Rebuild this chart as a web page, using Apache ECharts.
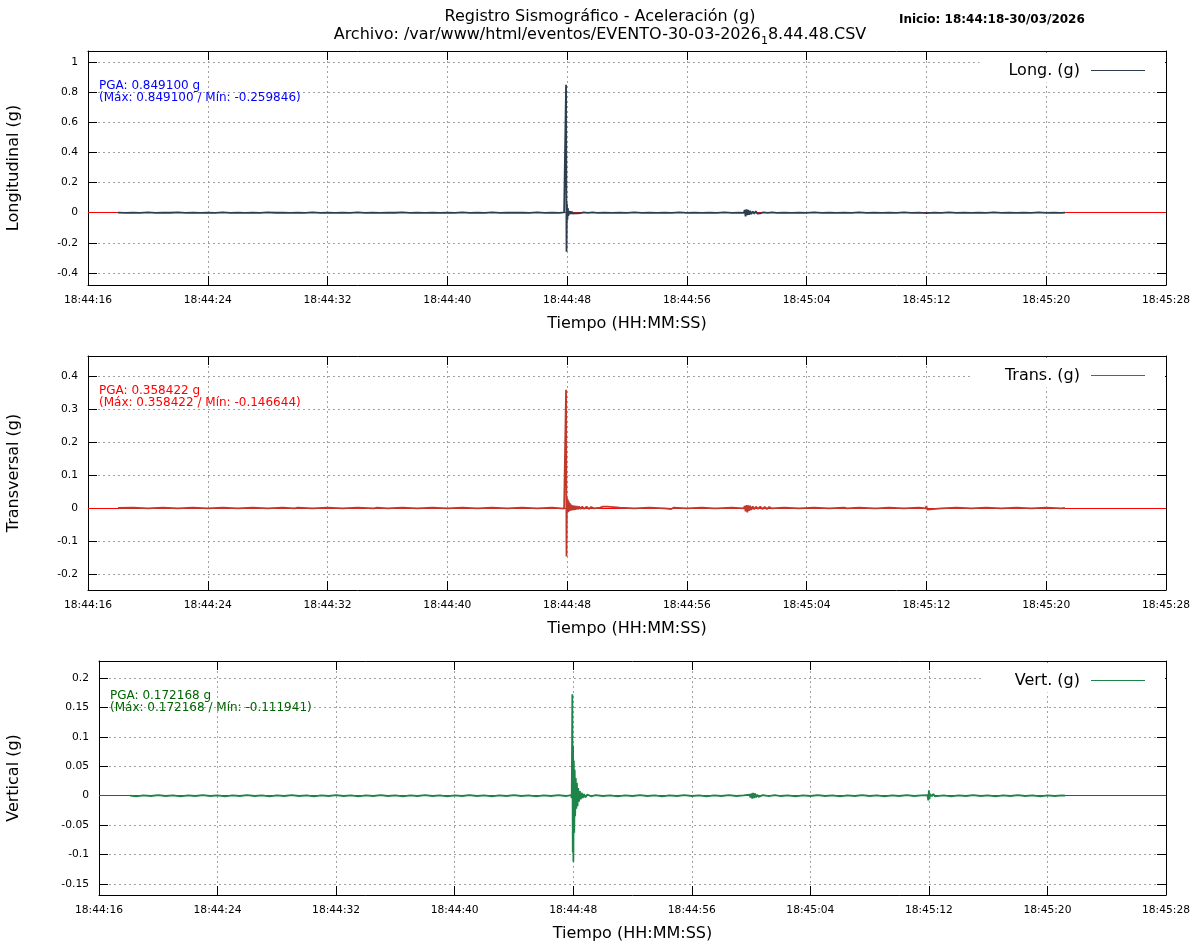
<!DOCTYPE html>
<html><head><meta charset="utf-8">
<script src="https://cdn.jsdelivr.net/npm/echarts@6/dist/echarts.min.js"></script>
<style>html,body{margin:0;padding:0;background:#fff}#c{width:1200px;height:950px}</style>
</head><body><div id="c"></div>
<script>
// ---------- DATA ----------
const tituloPrincipal = 'Registro Sismográfico - Aceleración (g)';
const archivoA = 'Archivo: /var/www/html/eventos/EVENTO-30-03-2026';
const archivoSub = '1';
const archivoB = '8.44.48.CSV';
const inicio = 'Inicio: 18:44:18-30/03/2026';
const tituloTiempo = 'Tiempo (HH:MM:SS)';
// x: seconds after 18:44:16
const etiquetasTiempo = ['18:44:16','18:44:24','18:44:32','18:44:40','18:44:48','18:44:56','18:45:04','18:45:12','18:45:20','18:45:28'];
const nombresSerie = ['Long. (g)', 'Trans. (g)', 'Vert. (g)'];
const titulosEjeY = ['Longitudinal (g)', 'Transversal (g)', 'Vertical (g)'];
const pga = [0.849100, 0.358422, 0.172168];
const maximos = [0.849100, 0.358422, 0.172168];
const minimos = [-0.259846, -0.146644, -0.111941];
const rangosY = [[-0.48, 1.073], [-0.2485, 0.4606], [-0.1686, 0.2288]];
const pasosY = [0.2, 0.1, 0.05];

const longitudinal = [
[2.0,0.000],[2.5,-0.0015],[3.0,0.001],[3.5,-0.001],[4.0,0.0015],[4.5,-0.0015],[5.0,0.001],[5.5,-0.0005],[6.0,0.0015],[6.5,-0.001],
[7.0,0.001],[7.5,-0.0015],[8.0,0.0005],[8.5,-0.001],[9.0,0.0015],[9.5,-0.001],[10.0,0.001],[10.5,-0.0015],[11.0,0.001],[11.5,-0.001],
[12.0,0.0015],[12.5,-0.0005],[13.0,0.001],[13.5,-0.0015],[14.0,0.001],[14.5,-0.001],[15.0,0.0015],[15.5,-0.001],[16.0,0.0005],[16.5,-0.0015],
[17.0,0.001],[17.5,-0.001],[18.0,0.0015],[18.5,-0.001],[19.0,0.001],[19.5,-0.0015],[20.0,0.001],[20.5,-0.0005],[21.0,0.0015],[21.5,-0.001],
[22.0,0.001],[22.5,-0.0015],[23.0,0.001],[23.5,-0.001],[24.0,0.0005],[24.5,-0.0015],[25.0,0.0015],[25.5,-0.001],[26.0,0.001],[26.5,-0.001],
[27.0,0.0015],[27.5,-0.0015],[28.0,0.001],[28.5,-0.0005],[29.0,0.001],[29.5,-0.0015],[30.0,0.0015],[30.5,-0.001],[31.0,0.001],[31.5,-0.001],
[31.80,0.002],[31.88,-0.004],[31.93,0.849100],[31.96,-0.259846],[31.99,0.061],[32.02,-0.047],[32.05,0.030],[32.08,-0.022],[32.12,0.012],[32.16,-0.010],
[32.21,0.009],[32.26,-0.008],[32.32,0.007],[32.38,-0.007],[32.45,0.006],[32.52,-0.005],[32.60,0.005],[32.68,-0.004],[32.78,0.004],[32.90,-0.003],
[33.1,0.002],[33.4,-0.0015],[33.7,0.0015],[34.0,-0.001],[34.5,0.001],[35.0,-0.0015],[35.5,0.001],[36.0,-0.001],[36.5,0.0015],[37.0,-0.001],
[37.5,0.001],[38.0,-0.0015],[38.5,0.001],[39.0,-0.001],[39.5,0.0015],[40.0,-0.001],[40.5,0.001],[41.0,-0.0015],[41.5,0.001],[42.0,-0.001],
[42.5,0.0015],[43.0,-0.001],[43.5,0.001],[43.80,-0.002],[43.86,0.018],[43.92,-0.024],[43.98,0.022],[44.04,-0.016],[44.10,0.019],[44.16,-0.014],
[44.22,0.012],[44.30,-0.010],[44.40,0.008],[44.50,-0.007],[44.60,0.009],[44.70,-0.006],[44.80,0.005],[44.90,-0.004],[45.1,0.002],[45.4,-0.001],
[45.7,0.0015],[46.0,-0.001],[46.5,0.001],[47.0,-0.0015],[47.5,0.001],[48.0,-0.001],[48.5,0.0015],[49.0,-0.001],[49.5,0.001],[50.0,-0.0015],
[50.5,0.001],[51.0,-0.001],[51.5,0.0015],[52.0,-0.001],[52.5,0.001],[53.0,-0.0015],[53.5,0.001],[54.0,-0.001],[54.5,0.0015],[55.0,-0.001],
[55.5,0.001],[56.0,-0.003],[56.5,0.001],[57.0,-0.001],[57.5,0.0015],[58.0,-0.001],[58.5,0.001],[59.0,-0.0015],[59.5,0.001],[60.0,-0.001],
[60.5,0.0015],[61.0,-0.001],[61.5,0.001],[62.0,-0.0015],[62.5,0.001],[63.0,-0.001],[63.5,0.0015],[64.0,-0.001],[64.5,0.001],[65.0,-0.0015],[65.25,0.0005]
];

const transversal = [
[2.0,0.000],[3.0,0.001],[4.0,-0.001],[5.0,0.001],[6.0,-0.001],[7.0,0.001],[8.0,-0.001],[9.0,0.001],[10.0,-0.001],[11.0,0.001],
[12.0,-0.001],[13.0,0.001],[13.8,-0.001],[13.9,-0.004],[14.0,0.001],[15.0,-0.001],[16.0,0.001],[17.0,-0.001],[18.0,0.001],[19.1,-0.001],
[19.2,-0.004],[19.3,0.001],[20.0,-0.001],[21.0,0.001],[22.0,-0.001],[23.0,0.001],[24.0,-0.001],[25.0,0.001],[26.0,-0.001],[27.0,0.001],
[28.0,-0.001],[29.0,0.001],[30.0,-0.001],[31.0,0.001],[31.8,-0.002],
[31.88,0.004],[31.93,0.358422],[31.96,-0.146644],[31.99,0.030],[32.02,-0.014],[32.05,0.026],[32.08,-0.012],[32.11,0.020],[32.14,-0.010],[32.18,0.015],
[32.22,-0.008],[32.27,0.010],[32.32,-0.007],[32.38,0.008],[32.44,-0.006],[32.50,0.007],[32.57,-0.005],[32.64,0.006],[32.72,-0.004],[32.80,0.005],
[32.90,-0.003],[33.0,0.004],[33.15,-0.003],[33.30,0.004],[33.45,-0.003],[33.60,0.003],[33.8,-0.001],[34.2,0.001],[34.40,0.004],[34.50,-0.001],
[34.70,0.004],[34.8,-0.001],[35.5,0.001],[36.5,-0.001],[37.5,0.001],[38.5,-0.001],[38.95,-0.003],[39.1,0.001],[40.0,-0.001],[41.0,0.001],
[41.8,-0.001],[41.9,0.004],[42.0,-0.001],[43.0,0.001],[43.8,-0.001],
[43.86,0.006],[43.92,-0.010],[43.98,0.009],[44.04,-0.013],[44.10,0.008],[44.16,-0.009],[44.22,0.007],[44.30,-0.006],[44.40,0.005],[44.50,-0.004],
[44.62,0.004],[44.75,-0.003],[44.90,0.004],[45.05,-0.003],[45.20,0.003],[45.35,-0.003],[45.50,0.003],[45.65,-0.001],
[46.5,0.001],[47.5,-0.001],[48.5,0.001],[49.5,-0.001],[50.5,0.001],[50.6,0.004],[50.7,-0.001],[51.5,0.001],[52.5,-0.001],[52.6,0.004],
[52.7,-0.001],[53.5,0.001],[54.5,-0.001],[55.5,0.001],[55.95,-0.001],[56.0,0.006],[56.05,-0.005],[56.1,0.001],[57.0,-0.001],[58.0,0.001],
[59.0,-0.001],[60.0,0.001],[61.0,-0.001],[62.0,0.001],[63.0,-0.001],[64.0,0.001],[65.0,-0.001],[65.25,0.000]
];

const vertical = [
[2.1,0.000],[2.5,-0.001],[3.0,0.0005],[3.5,-0.0005],[4.0,0.001],[4.5,-0.0005],[5.0,0.0005],[5.5,-0.001],[6.0,0.0005],[6.5,-0.0005],
[7.0,0.001],[7.5,-0.0005],[8.0,0.0005],[8.5,-0.001],[9.0,0.0005],[9.5,-0.0005],[10.0,0.001],[10.5,-0.0005],[11.0,0.0005],[11.5,-0.001],
[12.0,0.0005],[12.5,-0.0005],[13.0,0.001],[13.5,-0.0005],[14.0,0.0005],[14.5,-0.001],[15.0,0.0005],[15.5,-0.0005],[16.0,0.001],[16.5,-0.0005],
[17.0,0.0005],[17.5,-0.001],[18.0,0.0005],[18.5,-0.0005],[19.0,0.001],[19.5,-0.0005],[20.0,0.0005],[20.5,-0.001],[21.0,0.0005],[21.5,-0.0005],
[22.0,0.001],[22.5,-0.0005],[23.0,0.0005],[23.5,-0.001],[24.0,0.0005],[24.5,-0.0005],[25.0,0.001],[25.5,-0.0005],[26.0,0.0005],[26.5,-0.001],
[27.0,0.0005],[27.5,-0.0005],[28.0,0.001],[28.5,-0.0005],[29.0,0.0005],[29.5,-0.001],[30.0,0.0005],[30.5,-0.0005],[31.0,0.001],[31.5,-0.0005],
[31.85,0.001],[31.90,-0.004],[31.94,0.172168],[31.97,-0.096],[31.99,0.085],[32.01,-0.111941],[32.04,0.060],[32.07,-0.063],[32.10,0.044],[32.13,-0.035],
[32.17,0.030],[32.21,-0.022],[32.25,0.022],[32.29,-0.018],[32.34,0.013],[32.39,-0.010],[32.45,0.008],[32.51,-0.006],[32.58,0.005],[32.65,-0.004],
[32.73,0.003],[32.82,-0.003],[32.95,0.002],[33.2,-0.001],[33.5,0.001],[34.0,-0.0005],[34.5,0.0005],[35.0,-0.001],[35.5,0.0005],[36.0,-0.0005],
[36.5,0.001],[37.0,-0.0005],[37.5,0.0005],[38.0,-0.001],[38.5,0.0005],[39.0,-0.0005],[39.5,0.001],[40.0,-0.0005],[40.5,0.0005],[41.0,-0.001],
[41.5,0.0005],[42.0,-0.0005],[42.5,0.001],[43.0,-0.0005],[43.5,0.0005],[43.90,0.002],[43.96,-0.003],[44.02,0.004],[44.08,-0.005],[44.14,0.005],
[44.20,-0.004],[44.26,0.004],[44.34,-0.003],[44.42,0.002],[44.50,-0.002],[44.8,0.001],[45.2,-0.0005],[45.6,0.001],[46.0,-0.0005],[46.5,0.0005],
[47.0,-0.001],[47.5,0.0005],[48.0,-0.0005],[48.5,0.001],[49.0,-0.0005],[49.5,0.0005],[50.0,-0.001],[50.5,0.0005],[51.0,-0.0005],[51.5,0.001],
[52.0,-0.0005],[52.5,0.0005],[53.0,-0.001],[53.5,0.0005],[54.0,-0.0005],[54.5,0.001],[55.0,-0.0005],[55.5,0.0005],[55.90,0.001],[55.96,-0.008],
[56.00,0.009],[56.04,-0.006],[56.08,0.003],[56.2,-0.001],[56.3,0.003],[56.4,-0.001],[57.0,0.0005],[57.5,-0.001],[58.0,0.0005],[58.5,-0.0005],
[59.0,0.001],[59.5,-0.0005],[60.0,0.0005],[60.5,-0.001],[61.0,0.0005],[61.5,-0.0005],[62.0,0.001],[62.5,-0.0005],[63.0,0.0005],[63.5,-0.001],
[64.0,0.0005],[64.5,-0.0005],[65.0,0.0005],[65.2,0.000]
];

// ---------- STYLE / LAYOUT ----------
const FONT = 'DejaVu Sans';
const datos = [longitudinal, transversal, vertical];
const coloresSerie = ['#2c3e50', '#c0392b', '#1e8449'];
const coloresTexto = ['#0000ff', '#ff0000', '#006400'];
const paneles = [
  {left: 88, top: 51, width: 1078, nameGap: 66, annX: 99, annY: 80, padL: 29},
  {left: 88, top: 356, width: 1078, nameGap: 66, annX: 99, annY: 385, padL: 33},
  {left: 99, top: 661, width: 1067, nameGap: 77, annX: 110, annY: 690, padL: 34}
];
const ALTO = 234;

const grids = [], xAxes = [], yAxes = [], series = [], legends = [], graphics = [];
const lineaEje = {show: true, onZero: false, lineStyle: {color: '#000', width: 1}};
const marcaEje = {show: true, inside: true, length: 9, lineStyle: {color: '#000', width: 1}};
const rejilla = {show: true, lineStyle: {color: '#a0a0a0', width: 1, type: [2, 3]}};

paneles.forEach((p, i) => {
  grids.push({left: p.left, top: p.top, width: p.width, height: ALTO, containLabel: false, outerBoundsMode: 'none', show: false});
  const xb = {type: 'value', gridIndex: i, min: 0, max: 72, interval: 8, axisLine: lineaEje, axisTick: marcaEje};
  xAxes.push(Object.assign({}, xb, {
    position: 'bottom', name: tituloTiempo, nameLocation: 'middle', nameGap: 31,
    nameTextStyle: {fontFamily: FONT, fontSize: 16, color: '#000'},
    axisLabel: {show: true, margin: 10, color: '#000', fontFamily: FONT, fontSize: 10.7,
      formatter: v => etiquetasTiempo[Math.round(v / 8)], showMinLabel: true, showMaxLabel: true},
    splitLine: rejilla
  }));
  xAxes.push(Object.assign({}, xb, {position: 'top', axisLabel: {show: false}, splitLine: {show: false}}));
  const yb = {type: 'value', gridIndex: i, min: rangosY[i][0], max: rangosY[i][1],
    minInterval: pasosY[i], maxInterval: pasosY[i], splitNumber: 7, axisLine: lineaEje, axisTick: marcaEje};
  yAxes.push(Object.assign({}, yb, {
    position: 'left', name: titulosEjeY[i], nameLocation: 'middle', nameGap: p.nameGap, nameRotate: 90,
    nameTextStyle: {fontFamily: FONT, fontSize: 16, color: '#000'},
    axisLabel: {show: true, margin: 10, color: '#000', fontFamily: FONT, fontSize: 10.7, showMinLabel: false, showMaxLabel: false},
    splitLine: rejilla
  }));
  yAxes.push(Object.assign({}, yb, {position: 'right', axisLabel: {show: false}, splitLine: {show: false}}));

  series.push({
    name: 'cero' + i, type: 'line', xAxisIndex: 2 * i, yAxisIndex: 2 * i, data: [], z: 1, silent: true,
    markLine: {z: 1, silent: true, symbol: 'none', animation: false, label: {show: false}, emphasis: {disabled: true},
      lineStyle: {color: '#ff0000', width: 1, type: 'solid'}, data: [{yAxis: 0}]}
  });
  series.push({
    name: nombresSerie[i], type: 'line', xAxisIndex: 2 * i, yAxisIndex: 2 * i, data: datos[i],
    showSymbol: false, symbol: 'none', color: coloresSerie[i], z: 6, animation: false,
    lineStyle: {width: 1.8, color: coloresSerie[i]}, itemStyle: {color: coloresSerie[i]}, emphasis: {disabled: true}
  });
  legends.push({
    data: [nombresSerie[i]], right: 35, top: p.top + 1.5, orient: 'horizontal', align: 'right',
    icon: 'rect', itemWidth: 54, itemHeight: 1, backgroundColor: '#fff', padding: [10, 20, 4, p.padL],
    selectedMode: false, textStyle: {fontFamily: FONT, fontSize: 16, color: '#000', padding: [0, 6, 0, 0]}
  });
  graphics.push({
    type: 'text', left: p.annX, top: p.annY, z: 100, silent: true,
    style: {
      text: 'PGA: ' + pga[i].toFixed(6) + ' g\n(Máx: ' + maximos[i].toFixed(6) + ' / Mín: ' + minimos[i].toFixed(6) + ')',
      fill: coloresTexto[i], font: '12px "' + FONT + '"', lineHeight: 12
    }
  });
});

const chart = echarts.init(document.getElementById('c'), null, {renderer: 'canvas'});
chart.setOption({
  backgroundColor: '#fff',
  animation: false,
  title: [
    {text: tituloPrincipal, left: 'center', top: 7, padding: 0,
      textStyle: {fontFamily: FONT, fontSize: 16, fontWeight: 'normal', color: '#000', lineHeight: 19}},
    {text: '{a|' + archivoA + '}{s|' + archivoSub + '}{a|' + archivoB + '}', left: 'center', top: 23, padding: 0,
      textStyle: {fontWeight: 'normal', rich: {
        a: {fontFamily: FONT, fontSize: 16, fontWeight: 'normal', color: '#000', lineHeight: 24},
        s: {fontFamily: FONT, fontSize: 11, fontWeight: 'normal', color: '#000', lineHeight: 24, verticalAlign: 'bottom'}
      }}},
    {text: inicio, left: 899, top: 13, padding: 0,
      textStyle: {fontFamily: FONT, fontSize: 12, fontWeight: 'bold', color: '#000', lineHeight: 14}}
  ],
  grid: grids, xAxis: xAxes, yAxis: yAxes, series: series, legend: legends, graphic: graphics,
  tooltip: {show: false}
});
</script></body></html>
